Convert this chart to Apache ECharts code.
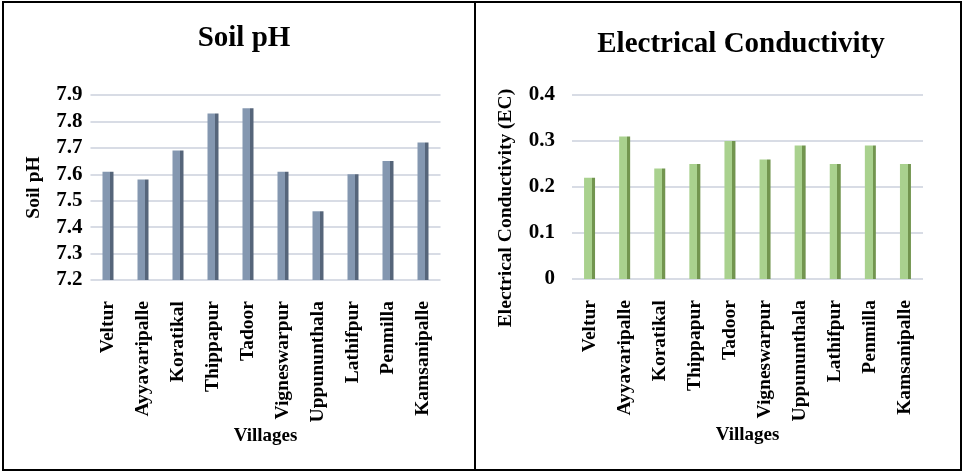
<!DOCTYPE html>
<html>
<head>
<meta charset="utf-8">
<script src="https://cdn.jsdelivr.net/npm/echarts@6/dist/echarts.min.js"></script>
<style>
html,body{margin:0;padding:0;background:#fff;}
#c{width:964px;height:474px;}
</style>
</head>
<body>
<div id="c"></div>
<script>
var villages = ['Veltur','Ayyavaripalle','Koratikal','Thippapur','Tadoor','Vigneswarpur','Uppununthala','Lathifpur','Penmilla','Kamsanipalle'];
var soilPH = [7.61, 7.58, 7.69, 7.83, 7.85, 7.61, 7.46, 7.60, 7.65, 7.72];
var ecValues = [0.22, 0.31, 0.24, 0.25, 0.30, 0.26, 0.29, 0.25, 0.29, 0.25];
var phTicks = { min: 7.2, max: 7.9, interval: 0.1 };
var ecTicks = { min: 0, max: 0.4, interval: 0.1 };

var FONT = '"Liberation Serif","Times New Roman",serif';
function barColor(main, dark) {
  return {
    type: 'linear', x: 0, y: 0, x2: 1, y2: 0,
    colorStops: [
      {offset: 0, color: main}, {offset: 0.7, color: main},
      {offset: 0.7, color: dark}, {offset: 1, color: dark}
    ]
  };
}
var gridLine = {show: true, lineStyle: {color: '#d8dce5', width: 2}};
function xAxis(gi, gap) {
  return {
    type: 'category', gridIndex: gi, data: villages,
    axisLine: {show: false}, axisTick: {show: false},
    axisLabel: {rotate: 90, margin: 21, fontFamily: FONT, fontWeight: 'bold', fontSize: 19.5, color: '#000'},
    name: 'Villages', nameLocation: 'middle', nameGap: gap,
    nameTextStyle: {fontFamily: FONT, fontWeight: 'bold', fontSize: 19, color: '#000'}
  };
}
function yAxis(gi, t, name, nameGap, margin, fmt, namePad) {
  return {
    type: 'value', gridIndex: gi, min: t.min, max: t.max, interval: t.interval,
    axisLine: {show: false}, axisTick: {show: false},
    splitLine: gridLine,
    axisLabel: {margin: margin, fontFamily: FONT, fontWeight: 'bold', fontSize: 21, color: '#000', formatter: fmt},
    name: name, nameLocation: 'middle', nameGap: nameGap,
    nameTextStyle: {fontFamily: FONT, fontWeight: 'bold', fontSize: 19.5, color: '#000', padding: namePad}
  };
}

var chart = echarts.init(document.getElementById('c'));
chart.setOption({
  animation: false,
  title: [
    {text: 'Soil pH', left: 239, top: 19, textAlign: 'center',
     textStyle: {fontFamily: FONT, fontWeight: 'bold', fontSize: 29, color: '#000'}},
    {text: 'Electrical Conductivity', left: 736, top: 25, textAlign: 'center',
     textStyle: {fontFamily: FONT, fontWeight: 'bold', fontSize: 29, color: '#000'}}
  ],
  grid: [
    {left: 90.5, width: 350, top: 95, height: 185},
    {left: 572, width: 351, top: 95, height: 184}
  ],
  xAxis: [xAxis(0, 140), xAxis(1, 147)],
  yAxis: [
    yAxis(0, phTicks, 'Soil pH', 47, 8, function (v) { return v.toFixed(1); }, 0),
    yAxis(1, ecTicks, 'Electrical Conductivity (EC)', 56, 17, function (v) { return v === 0 ? '0' : v.toFixed(1); }, [0, 42, 0, 0])
  ],
  series: [
    {type: 'bar', xAxisIndex: 0, yAxisIndex: 0, data: soilPH, barWidth: 11,
     itemStyle: {color: barColor('#8497b0', '#56657a')}},
    {type: 'bar', xAxisIndex: 1, yAxisIndex: 1, data: ecValues, barWidth: 11,
     itemStyle: {color: barColor('#a9d18e', '#72954f')}}
  ],
  graphic: [
    {type: 'rect', shape: {x: 3, y: 2, width: 958, height: 468},
     style: {fill: 'none', stroke: '#000', lineWidth: 2}, silent: true},
    {type: 'line', shape: {x1: 475, y1: 2, x2: 475, y2: 470},
     style: {stroke: '#000', lineWidth: 2}, silent: true}
  ]
});
</script>
</body>
</html>
